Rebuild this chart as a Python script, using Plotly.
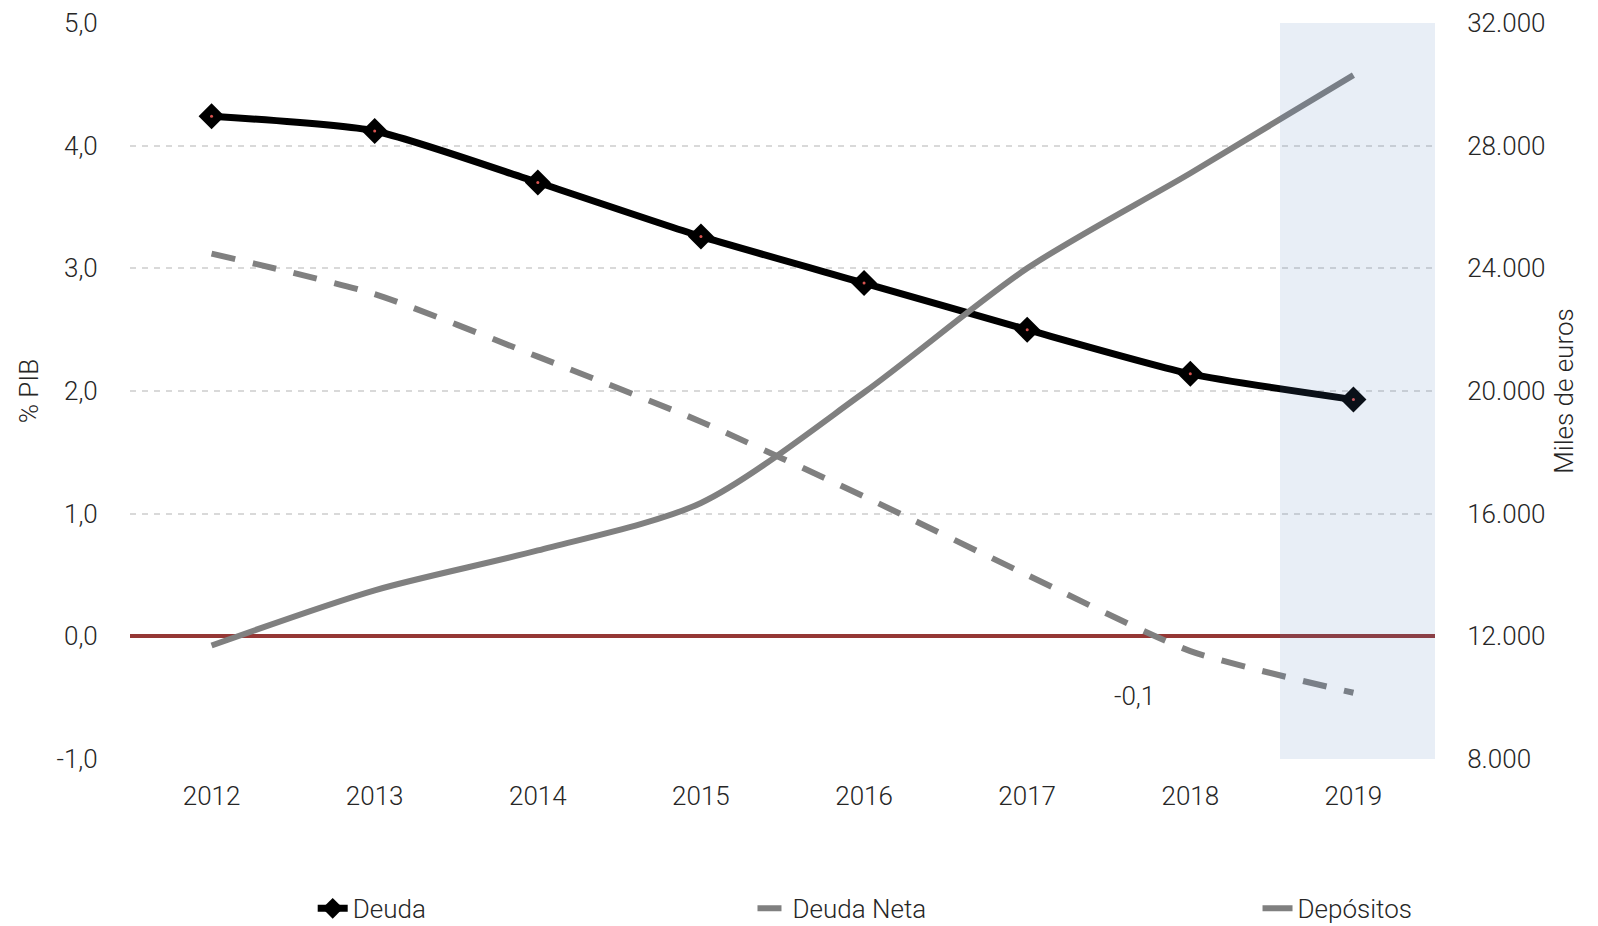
import plotly.graph_objects as go

years = ["2012", "2013", "2014", "2015", "2016", "2017", "2018", "2019"]
deuda = [4.24, 4.12, 3.70, 3.26, 2.88, 2.50, 2.14, 1.93]
deuda_neta = [3.12, 2.79, 2.28, 1.75, 1.14, 0.50, -0.12, -0.46]
depositos = [11700, 13500, 14800, 16350, 19950, 24000, 27100, 30300]
left_ticks = [-1, 0, 1, 2, 3, 4, 5]
left_labels = ["-1,0", "0,0", "1,0", "2,0", "3,0", "4,0", "5,0"]
right_ticks = [8000, 12000, 16000, 20000, 24000, 28000, 32000]
label_2018 = "-0,1"

FONT = "Roboto, Liberation Sans, sans-serif"
W = 300
TXT = "#262626"
F = dict(family=FONT, size=26, color=TXT, weight=W)

fig = go.Figure()
fig.add_trace(go.Scatter(
    x=years, y=deuda, name="Deuda", mode="lines+markers",
    line=dict(color="black", width=7, shape="spline", smoothing=0.6),
    marker=dict(symbol="diamond", size=20, color="black"),
    legend="legend"))
fig.add_trace(go.Scatter(
    x=years, y=deuda, mode="markers", showlegend=False, hoverinfo="skip",
    marker=dict(symbol="circle", size=3, color="#d9534f")))
fig.add_trace(go.Scatter(
    x=years, y=deuda_neta, name="Deuda Neta", mode="lines",
    line=dict(color="#808080", width=6, dash="24px,18px", shape="spline", smoothing=0.6),
    legend="legend2"))
fig.add_trace(go.Scatter(
    x=years, y=depositos, name="Depósitos", mode="lines", yaxis="y2",
    line=dict(color="#808080", width=6, shape="spline", smoothing=0.8),
    legend="legend3"))

fig.add_annotation(xref="x", yref="y", x=6, y=deuda_neta[6], text=label_2018, showarrow=False,
                   xshift=-56, yshift=-45, font=F)

fig.add_shape(type="rect", xref="x", yref="paper", x0=6.55, x1=7.5, y0=0, y1=1,
              fillcolor="rgb(77,123,185)", opacity=0.13, line=dict(width=0), layer="above")

leg_common = dict(orientation="h", yanchor="middle", y=-0.203, xanchor="left",
                  font=F, bgcolor="rgba(0,0,0,0)")
fig.update_layout(
    width=1598, height=926,
    margin=dict(l=130, r=163, t=23, b=167, autoexpand=False),
    paper_bgcolor="white", plot_bgcolor="white",
    separators=",.",
    font=F,
    xaxis=dict(type="category", range=[-0.5, 7.5], showgrid=False, showline=False,
               automargin=False,
               ticks="outside", ticklen=14, tickcolor="rgba(0,0,0,0)", tickfont=F),
    yaxis=dict(range=[-1, 5], tickvals=left_ticks, ticktext=left_labels, automargin=False,
               showgrid=True, gridcolor="#d9d9d9", gridwidth=1.5, griddash="6px,6px",
               zeroline=True, zerolinecolor="#953735", zerolinewidth=4,
               ticks="outside", ticklen=26, tickcolor="rgba(0,0,0,0)",
               title=dict(text="% PIB", standoff=10, font=F), tickfont=F),
    yaxis2=dict(range=[8000, 32000], tickvals=right_ticks, tickformat=",d", automargin=False,
                overlaying="y", side="right", showgrid=False, zeroline=False,
                ticks="outside", ticklen=26, tickcolor="rgba(0,0,0,0)",
                title=dict(text="Miles de euros", standoff=10, font=F), tickfont=F),
    legend=dict(x=0.140, **leg_common),
    legend2=dict(x=0.477, **leg_common),
    legend3=dict(x=0.864, **leg_common),
)

fig.write_html("out.html", config={"displayModeBar": False},
               post_script="document.body.style.margin='0';document.body.style.overflow='hidden';")
